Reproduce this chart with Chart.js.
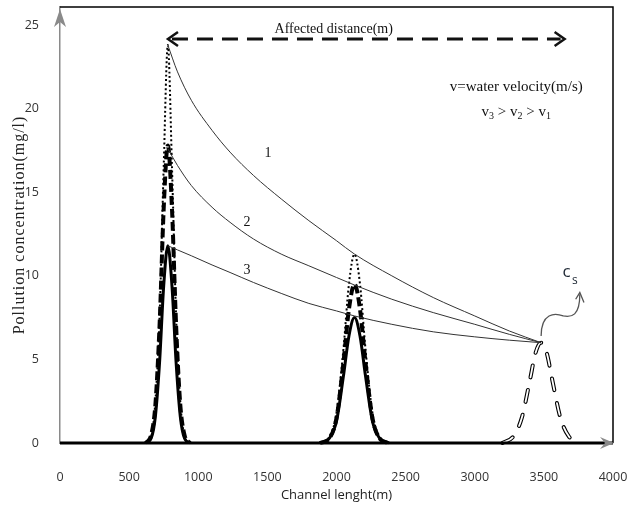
<!DOCTYPE html>
<html>
<head>
<meta charset="utf-8">
<script src="https://cdn.jsdelivr.net/npm/chart.js@4"></script>
<style>
html, body { margin: 0; padding: 0; background: #fff; }
</style>
</head>
<body>
<canvas id="chart" width="644" height="506"></canvas>
<script>
// decay curves (channel length m -> concentration mg/l)
const decayX = [780, 850, 950, 1100, 1230, 1400, 1600, 1800, 2000, 2130, 2400, 2700, 3000, 3250, 3480]
const curve1Y = [23.8, 22.2, 20.5, 18.7, 17.4, 16.0, 14.6, 13.3, 12.1, 11.3, 10.0, 8.7, 7.6, 6.7, 6.0]
const curve2Y = [17.6, 16.6, 15.4, 14.1, 13.2, 12.2, 11.3, 10.6, 9.9, 9.45, 8.6, 7.8, 7.1, 6.5, 6.0]
const curve3Y = [11.8, 11.55, 11.2, 10.65, 10.2, 9.6, 8.95, 8.35, 7.9, 7.6, 7.1, 6.65, 6.35, 6.15, 6.0]

// pulse near 780 m
const pulseAX = [620, 660, 690, 720, 750, 780, 810, 840, 870, 900, 940]
const pulseA1 = [0, 0.4, 2.5, 7.5, 16.5, 23.8, 16.5, 7.5, 2.5, 0.4, 0]
const pulseA2 = [0, 0.5, 2.3, 7.0, 14.0, 17.8, 14.0, 7.0, 2.3, 0.5, 0]
const pulseA3 = [0, 0.3, 1.6, 4.8, 9.4, 11.8, 9.4, 4.8, 1.6, 0.3, 0]

// pulse near 2130 m
const pulseBX = [1880, 1950, 2000, 2050, 2090, 2130, 2170, 2210, 2260, 2310, 2380]
const pulseB1 = [0, 0.4, 1.8, 5.6, 9.5, 11.3, 9.5, 5.6, 1.8, 0.4, 0]
const pulseB2 = [0, 0.3, 1.5, 4.8, 8.0, 9.5, 8.0, 4.8, 1.5, 0.3, 0]
const pulseB3 = [0, 0.3, 1.3, 4.0, 6.4, 7.5, 6.4, 4.0, 1.3, 0.3, 0]

// pulse near 3480 m (standard concentration cs)
const pulseCX = [3200, 3280, 3340, 3400, 3440, 3480, 3520, 3560, 3620, 3680, 3760]
const pulseC = [0, 0.4, 1.5, 3.8, 5.4, 6.0, 5.4, 3.8, 1.5, 0.4, 0]

const xTicks = [0, 500, 1000, 1500, 2000, 2500, 3000, 3500, 4000]
const yTicks = [0, 5, 10, 15, 20, 25]

function pts(xs, ys) {
    return xs.map((x, i) => ({ x: x, y: ys[i] }))
}

function line(data, width, dash, color) {
    return {
        data: data,
        borderColor: color || '#000',
        borderWidth: width,
        borderDash: dash || [],
        pointRadius: 0,
        cubicInterpolationMode: 'monotone',
        fill: false,
        clip: false
    }
}

const serif = '"Liberation Serif", "DejaVu Serif", serif'
const sans = '"Open Sans", "Noto Sans", sans-serif'

// text + arrows on top of the plot
const decorations = {
    id: 'decorations',
    afterDraw(chart) {
        const ctx = chart.ctx
        const a = chart.chartArea
        const xs = chart.scales.x
        const ys = chart.scales.y
        const px = v => xs.getPixelForValue(v)
        const py = v => ys.getPixelForValue(v)
        ctx.save()

        // frame top and right
        ctx.strokeStyle = '#000'
        ctx.lineWidth = 1.5
        ctx.beginPath()
        ctx.moveTo(a.left, a.top)
        ctx.lineTo(a.right, a.top)
        ctx.lineTo(a.right, a.bottom)
        ctx.stroke()

        // gray axis arrowheads
        ctx.fillStyle = '#8a8a8a'
        ctx.beginPath()
        ctx.moveTo(a.left, a.top + 2)
        ctx.lineTo(a.left - 6, a.top + 20)
        ctx.lineTo(a.left, a.top + 15)
        ctx.lineTo(a.left + 6, a.top + 20)
        ctx.closePath()
        ctx.fill()
        ctx.beginPath()
        ctx.moveTo(a.right + 1, a.bottom)
        ctx.lineTo(a.right - 13, a.bottom - 6)
        ctx.lineTo(a.right - 8, a.bottom)
        ctx.lineTo(a.right - 13, a.bottom + 6)
        ctx.closePath()
        ctx.fill()

        // y axis title, letter spaced like the original
        ctx.save()
        ctx.translate(20, (a.top + a.bottom) / 2)
        ctx.rotate(-Math.PI / 2)
        ctx.fillStyle = '#222'
        ctx.font = '16px ' + serif
        ctx.letterSpacing = '1px'
        ctx.textAlign = 'center'
        ctx.textBaseline = 'middle'
        ctx.fillText('Pollution concentration(mg/l)', 0, 0)
        ctx.restore()

        // affected distance arrow
        const ay = py(24.16)
        const ax1 = px(781)
        const ax2 = px(3650)
        ctx.strokeStyle = '#111'
        ctx.lineWidth = 3
        ctx.setLineDash([16, 9])
        ctx.beginPath()
        ctx.moveTo(ax1 + 4, ay)
        ctx.lineTo(ax2 - 4, ay)
        ctx.stroke()
        ctx.setLineDash([])
        ctx.lineWidth = 2.5
        ctx.beginPath()
        ctx.moveTo(ax1 + 10, ay - 7)
        ctx.lineTo(ax1, ay)
        ctx.lineTo(ax1 + 10, ay + 7)
        ctx.moveTo(ax2 - 10, ay - 7)
        ctx.lineTo(ax2, ay)
        ctx.lineTo(ax2 - 10, ay + 7)
        ctx.stroke()

        ctx.fillStyle = '#111'
        ctx.textAlign = 'center'
        ctx.textBaseline = 'middle'
        ctx.font = '14px ' + serif
        ctx.fillText('Affected distance(m)', px(1980), py(24.75))
        ctx.font = '15px ' + serif
        ctx.fillText('v=water velocity(m/s)', px(3300), py(21.3))

        // v3 > v2 > v1 with subscripts
        const parts = [['v', '3'], [' > v', '2'], [' > v', '1']]
        let w = 0
        parts.forEach(p => {
            ctx.font = '15px ' + serif
            w += ctx.measureText(p[0]).width
            ctx.font = '10px ' + serif
            w += ctx.measureText(p[1]).width
        })
        let cx = px(3300) - w / 2
        const cy = py(19.8)
        ctx.textAlign = 'left'
        parts.forEach(p => {
            ctx.font = '15px ' + serif
            ctx.fillText(p[0], cx, cy)
            cx += ctx.measureText(p[0]).width
            ctx.font = '10px ' + serif
            ctx.fillText(p[1], cx, cy + 4)
            cx += ctx.measureText(p[1]).width
        })

        // curve labels
        ctx.textAlign = 'center'
        ctx.font = '14px ' + serif
        ctx.fillText('1', px(1505), py(17.3))
        ctx.fillText('2', px(1353), py(13.2))
        ctx.fillText('3', px(1353), py(10.3))

        // cs label and wavy arrow
        ctx.font = '17px ' + sans
        ctx.fillStyle = '#1d2733'
        ctx.fillText('c', px(3665), py(10.2))
        ctx.font = '12px ' + sans
        ctx.fillText('s', px(3725), py(9.7))
        ctx.strokeStyle = '#555'
        ctx.lineWidth = 1.3
        ctx.beginPath()
        ctx.moveTo(px(3480), py(6.4))
        ctx.bezierCurveTo(px(3480), py(7.8), px(3580), py(7.8), px(3640), py(7.6))
        ctx.bezierCurveTo(px(3700), py(7.5), px(3760), py(7.6), px(3760), py(8.9))
        ctx.stroke()
        ctx.beginPath()
        ctx.moveTo(px(3730), py(8.6))
        ctx.lineTo(px(3760), py(9.0))
        ctx.lineTo(px(3790), py(8.4))
        ctx.stroke()
        ctx.restore()
    }
}

const tickText = v => String(v)

const chart = new Chart(document.getElementById('chart').getContext('2d'), {
    type: 'line',
    data: {
        datasets: [
            line([{ x: 0, y: 0 }, { x: 4000, y: 0 }], 3.2),
            line(pts(decayX, curve1Y), 1, [], '#333'),
            line(pts(decayX, curve2Y), 1, [], '#333'),
            line(pts(decayX, curve3Y), 1, [], '#333'),
            line(pts(pulseAX, pulseA1), 2, [2, 2.5]),
            line(pts(pulseAX, pulseA2), 4, [9, 4]),
            line(pts(pulseAX, pulseA3), 3),
            line(pts(pulseBX, pulseB1), 2, [2, 2.5]),
            line(pts(pulseBX, pulseB2), 4, [9, 4]),
            line(pts(pulseBX, pulseB3), 3),
            // white core first in the list so it is painted over the black outline
            Object.assign(line(pts(pulseCX, pulseC), 1.8, [12, 13], '#fff'), { borderCapStyle: 'round' }),
            Object.assign(line(pts(pulseCX, pulseC), 4, [12, 13]), { borderCapStyle: 'round' })
        ]
    },
    options: {
        responsive: false,
        animation: false,
        devicePixelRatio: 1,
        layout: { padding: { top: 7, right: 31, left: 0, bottom: 0 } },
        plugins: { legend: { display: false }, tooltip: { enabled: false } },
        scales: {
            x: {
                type: 'linear',
                min: 0,
                max: 4000,
                afterFit: s => { s.height = 63; s.paddingLeft = 0; s.paddingRight = 0 },
                afterBuildTicks: s => { s.ticks = xTicks.map(v => ({ value: v })) },
                grid: { display: false },
                border: { display: false },
                ticks: { color: '#333', padding: 19, callback: tickText, font: { family: sans, size: 12.5 } },
                title: { display: true, text: 'Channel lenght(m)', color: '#222', font: { family: sans, size: 13 }, padding: { top: 4, bottom: 3 } }
            },
            y: {
                min: 0,
                max: 26.08,
                afterFit: s => { s.width = 60; s.paddingTop = 0; s.paddingBottom = 0 },
                afterBuildTicks: s => { s.ticks = yTicks.map(v => ({ value: v })) },
                grid: { display: false },
                border: { color: '#8a8a8a', width: 1.5 },
                ticks: { color: '#333', padding: 13, callback: tickText, font: { family: sans, size: 12.5 } },
                title: { display: false }
            }
        }
    },
    plugins: [decorations]
})
</script>
</body>
</html>
